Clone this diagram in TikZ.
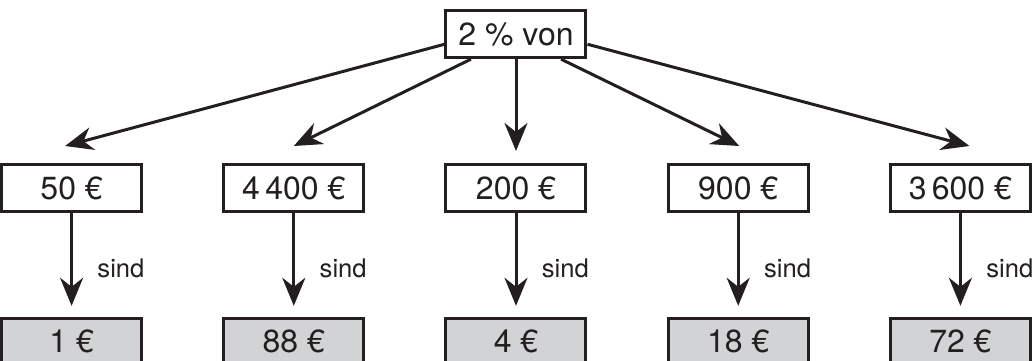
\documentclass[tikz,border=0pt]{standalone}
\usepackage{fontspec}
\setmainfont{TeX Gyre Heros}
\usetikzlibrary{arrows.meta}
\definecolor{ink}{HTML}{231F20}
\definecolor{sumgray}{HTML}{D1D3D4}

\begin{document}
\begin{tikzpicture}[
	x=0.5pt, y=-0.5pt,
	box/.style={
		rectangle,
		draw=ink, line width=1.5pt,
		minimum width=70pt, minimum height=23.5pt, inner sep=0pt,
		font=\fontsize{16}{19}\selectfont, text=ink
	},
	result/.style={box, fill=sumgray},
	line/.style={draw=ink, line width=1.5pt, -{Stealth[length=14pt, width=11.5pt, inset=4.5pt]}},
	down/.style={line, shorten >=5.5pt},
	sind/.style={anchor=base west, inner sep=0pt, font=\fontsize{12.8}{15}\selectfont, text=ink},
	]
	\useasboundingbox (0,0) rectangle (1034,360);
	\clip (0,0) rectangle (1034,360);

	\matrix (grid) at (516,188) [row sep=51.9pt, column sep=39.6pt, inner sep=0pt] {
		& & \node [box] (pct) {2 \% von}; & & \\
		\node [box] (a1) {50 €};
		& \node [box] (a2) {4\,400 €};
		& \node [box] (a3) {200 €};
		& \node [box] (a4) {900 €};
		& \node [box] (a5) {3\,600 €}; \\
		\node [result] (r1) {1 €};
		& \node [result] (r2) {88 €};
		& \node [result] (r3) {4 €};
		& \node [result] (r4) {18 €};
		& \node [result] (r5) {72 €}; \\
	};

	% arrow tips above the amounts
	\coordinate (t1) at ([xshift=-3.25pt, yshift=8.5pt]a1.north);
	\coordinate (t2) at ([yshift=8.5pt]a2.north);
	\coordinate (t3) at ([yshift=6pt]a3.north);
	\coordinate (t4) at ([xshift=0.5pt, yshift=8.5pt]a4.north);
	\coordinate (t5) at ([xshift=4.5pt, yshift=8.5pt]a5.north);

	\path [line] (pct.188) -- (t1);
	\path [line] (pct.209) -- (t2);
	\path [line] (pct.south) -- (t3);
	\path [line] (pct.331) -- (t4);
	\path [line] (pct.352) -- (t5);

	\path [down] (a1) -- (r1);
	\path [down] (a2) -- (r2);
	\path [down] (a3) -- (r3);
	\path [down] (a4) -- (r4);
	\path [down] (a5) -- (r5);

	\node [sind] (s1) at ([xshift=12.75pt, yshift=-32pt]a1.south) {sind};
	\node [sind] (s2) at ([xshift=12.75pt, yshift=-32pt]a2.south) {sind};
	\node [sind] (s3) at ([xshift=12.75pt, yshift=-32pt]a3.south) {sind};
	\node [sind] (s4) at ([xshift=12.75pt, yshift=-32pt]a4.south) {sind};
	\node [sind] (s5) at ([xshift=12.75pt, yshift=-32pt]a5.south) {sind};
\end{tikzpicture}
\end{document}
